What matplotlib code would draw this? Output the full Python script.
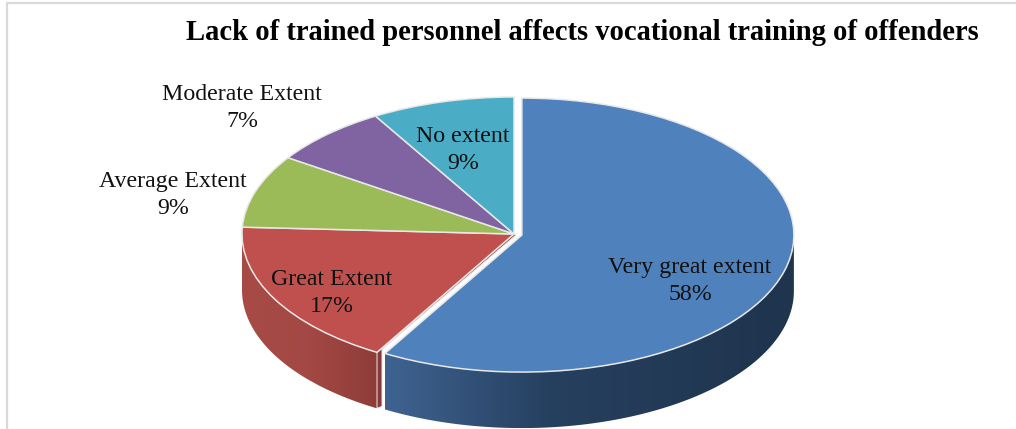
import numpy as np
import matplotlib
matplotlib.use("Agg")
import matplotlib.pyplot as plt
from matplotlib.colors import LinearSegmentedColormap
from matplotlib.patches import Polygon
from matplotlib.transforms import Affine2D

title = "Lack of trained personnel affects vocational training of offenders"
categories = ["Very great extent", "Great Extent", "Average Extent", "Moderate Extent", "No extent"]
# shares, the printed labels are rounded
shares = [58.4, 17.4, 8.6, 7.1, 8.5]
pct_labels = ["58%", "17%", "9%", "7%", "9%"]
colors = ["#4F81BD", "#C0504D", "#9BBB59", "#8064A2", "#4BACC6"]
label_xy = [(690, 281), (332, 293), (173, 195), (242, 108), (463, 150)]

W, H = 1016, 429
CX, CY = 514, 234      # pie centre in pixels
RX, RY = 272, 137      # tilted ellipse
DEPTH = 56

plt.rcParams['font.family'] = ['Liberation Serif', 'DejaVu Serif']

fig = plt.figure(figsize=(W / 100, H / 100), dpi=100)
ax = fig.add_axes([0, 0, 1, 1])

tilt = Affine2D().scale(RX, -RY).translate(CX, CY)
wedges, _ = ax.pie(shares, colors=colors, startangle=90, counterclock=False,
                   explode=[0.03, 0, 0, 0, 0], radius=1,
                   wedgeprops=dict(edgecolor="#E8E8E8", linewidth=1.1, zorder=5))
for w in wedges:
    w.set_transform(tilt + ax.transData)

ax.set_aspect("auto")
ax.set_xlim(0, W)
ax.set_ylim(H, 0)
ax.set_frame_on(False)
ax.set_xticks([])
ax.set_yticks([])


def rim_wall(wedge, stops, zorder):
    # front side of the slice, shaded left to right
    lo = max(wedge.theta1, -180)
    hi = min(wedge.theta2, 0)
    t = np.radians(np.linspace(lo, hi, 120))
    x = CX + RX * (wedge.center[0] + np.cos(t))
    y = CY - RY * (wedge.center[1] + np.sin(t))
    pts = np.vstack([np.column_stack([x, y]),
                     np.column_stack([x[::-1], y[::-1] + DEPTH])])
    poly = Polygon(pts, closed=True, facecolor="none", edgecolor="none",
                   transform=ax.transData)
    ax.add_patch(poly)
    cmap = LinearSegmentedColormap.from_list("wall", stops)
    img = ax.imshow(np.linspace(0, 1, 256)[None, :], cmap=cmap, aspect="auto",
                    extent=[x.min(), x.max(), y.max() + DEPTH, y.min()],
                    zorder=zorder, interpolation="bilinear")
    img.set_clip_path(poly)


rim_wall(wedges[1], ["#A84B47", "#A34844", "#8E3C38"], 2)
rim_wall(wedges[0], [(0, "#3F6391"), (0.4, "#26405F"), (1, "#1F344D")], 3)
ax.set_xlim(0, W)
ax.set_ylim(H, 0)
ax.set_aspect("auto")

# cut side of the red slice, seen through the gap left by the exploded one
t_end = np.radians(wedges[1].theta2)
ex, ey = CX + RX * np.cos(t_end), CY - RY * np.sin(t_end)
ax.add_patch(Polygon([(CX, CY), (ex, ey), (ex, ey + DEPTH), (ex + 5, ey + DEPTH - 2),
                      (ex + 5, ey - 3), (CX + 2, CY + 1)],
                     closed=True, facecolor="#87393A", edgecolor="#E8E8E8", linewidth=0.7, zorder=4))

for name, pct, (lx, ly) in zip(categories, pct_labels, label_xy):
    ax.text(lx, ly, f"{name}\n{pct}", ha="center", va="center", fontsize=17.2,
            linespacing=1.36, color="#111111", zorder=8)

ax.text(582, 32, title, ha="center", va="center", fontsize=20.6, fontweight="bold",
        color="black", zorder=8)

# chart frame, only top and left survive in the crop
ax.plot([7, 7, W], [H, 3, 3], color="#D9D9D9", linewidth=1.6, zorder=1, clip_on=False)

fig.savefig("out.png", dpi=100)
